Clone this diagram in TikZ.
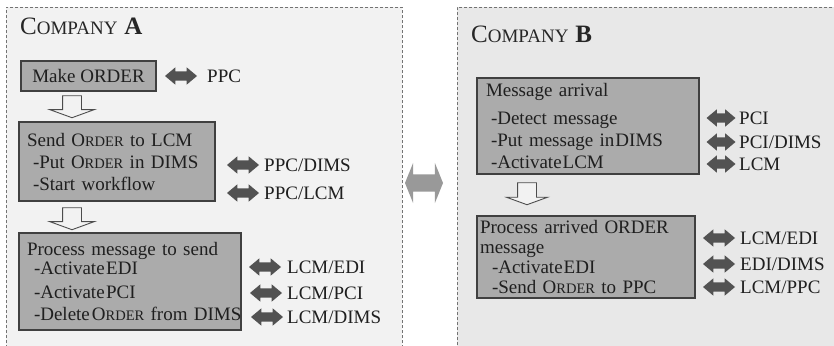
\documentclass[tikz,border=0pt]{standalone}
\usepackage{fontspec}
\setmainfont{Liberation Serif}
\usetikzlibrary{shapes.arrows}
% faked small capitals: first letter full size, the rest smaller
\newcommand\fsc[2]{#1{\fontsize{14.5}{16}\selectfont #2}}
\newcommand\headsc[2]{{\fontsize{25}{28}\selectfont #1}{\fontsize{19}{22}\selectfont #2}}
\begin{document}
\begin{tikzpicture}[x=1pt,y=-1pt,
  panel/.style={draw=black!55, dash pattern=on 3pt off 2pt, line width=0.6pt, inner sep=0pt, anchor=north west},
  heading/.style={anchor=base west, inner sep=0pt, text=black!85},
  stepbox/.style={draw=black!75, line width=1.1pt, fill=black!33, align=left,
    font=\fontsize{19}{22}\selectfont, text=black!88, inner ysep=0pt},
  link/.style={double arrow, fill=black!68, draw=none, minimum height=32pt,
    inner xsep=0pt, inner ysep=4.5pt,
    double arrow head extend=4pt, double arrow tip angle=80},
  tag/.style={anchor=west, font=\fontsize{19}{22}\selectfont, text=black!88, inner sep=0pt},
  flow/.style={single arrow, rotate=-90, draw=black!70, line width=0.9pt, fill=black!5,
    minimum height=22pt, inner xsep=0pt, inner ysep=9pt, single arrow head extend=13pt,
    single arrow tip angle=140},
]
\useasboundingbox (0,0) rectangle (834,345);
\fill[white] (0,0) rectangle (834,345);

% the two company panels
\node[panel, fill=black!5, minimum width=396pt, minimum height=350pt] (compA) at (6,7) {};
\node[panel, fill=black!9, minimum width=390pt, minimum height=350pt] (compB) at (457,7) {};

% exchange between the companies
\node[double arrow, fill=black!40, draw=none, minimum height=38pt, inner xsep=0pt, inner ysep=8.5pt,
  double arrow head extend=11.5pt, double arrow tip angle=136] (xchg) at (424,183) {};

% ---------------- Company A ----------------
\node[heading] (titleA) at (20,35) {\headsc{C}{OMPANY}\hspace{7pt}{\fontsize{25}{28}\selectfont\bfseries A}};

\node[stepbox, minimum width=135pt, minimum height=30pt, inner xsep=6pt] (make) at (88.5,76) {Make ORDER};
\node[link] (l1) at (181,76) {};
\node[tag] (t1) at (207,76) {PPC};

\node[flow] (d1) at (72,105) {};

\node[stepbox, minimum width=196pt, minimum height=79pt, text width=180pt, inner xsep=8pt] (send) at (117,161.5)
  {Send \fsc{O}{RDER} to LCM\\
   \hspace*{6pt}-Put \fsc{O}{RDER} in DIMS\\
   \hspace*{6pt}-Start workflow};
\node[link] (l2) at (243,165) {};
\node[tag] (t2) at (264,165) {PPC/DIMS};
\node[link] (l3) at (243,193) {};
\node[tag] (t3) at (264,193) {PPC/LCM};

\node[flow] (d2) at (72,217) {};

\node[stepbox, minimum width=222pt, minimum height=97pt, text width=206pt, inner xsep=8pt] (proc) at (130,281.5)
  {Process message to send\\[-3pt]
   \hspace*{7pt}-Activate\kern1.5pt EDI\\[2pt]
   \hspace*{7pt}-Activate\kern1.5pt PCI\\
   \mbox{\hspace*{7pt}-Delete\kern2pt\fsc{O}{RDER} from DIMS}};
\node[link] (l4) at (265,267) {};
\node[tag] (t4) at (287,267) {LCM/EDI};
\node[link] (l5) at (266,293) {};
\node[tag] (t5) at (287,293) {LCM/PCI};
\node[link] (l6) at (267,317) {};
\node[tag] (t6) at (287,317) {LCM/DIMS};

% ---------------- Company B ----------------
\node[heading] (titleB) at (471,42) {\headsc{C}{OMPANY}\hspace{7pt}{\fontsize{25}{28}\selectfont\bfseries B}};

\node[stepbox, minimum width=222pt, minimum height=96pt, text width=204pt, inner xsep=9pt] (arrive) at (588,126)
  {Message arrival\\[6pt]
   \hspace*{5pt}-Detect message\\
   \hspace*{5pt}-Put message in\kern1pt DIMS\\
   \hspace*{5pt}-Activate\kern1pt LCM};
\node[link, minimum height=29pt] (r1) at (721,118) {};
\node[tag] (u1) at (739,118) {PCI};
\node[link, minimum height=29pt] (r2) at (721,142) {};
\node[tag] (u2) at (739,142) {PCI/DIMS};
\node[link, minimum height=29pt] (r3) at (721,164) {};
\node[tag] (u3) at (739,164) {LCM};

\node[flow, single arrow head extend=11pt] (d3) at (527,192) {};

\node[stepbox, minimum width=218pt, minimum height=82pt, text width=212pt, inner xsep=3pt] (handle) at (586,257)
  {Process arrived ORDER\\[-2pt]
   message\\[-2pt]
   \hspace*{12pt}-Activate\kern1pt EDI\\[-2pt]
   \hspace*{12pt}-Send \fsc{O}{RDER} to PPC};
\node[link] (r4) at (719,238) {};
\node[tag] (u4) at (740,238) {LCM/EDI};
\node[link] (r5) at (719,264) {};
\node[tag] (u5) at (740,264) {EDI/DIMS};
\node[link] (r6) at (719,287) {};
\node[tag] (u6) at (740,287) {LCM/PPC};
\end{tikzpicture}
\end{document}
